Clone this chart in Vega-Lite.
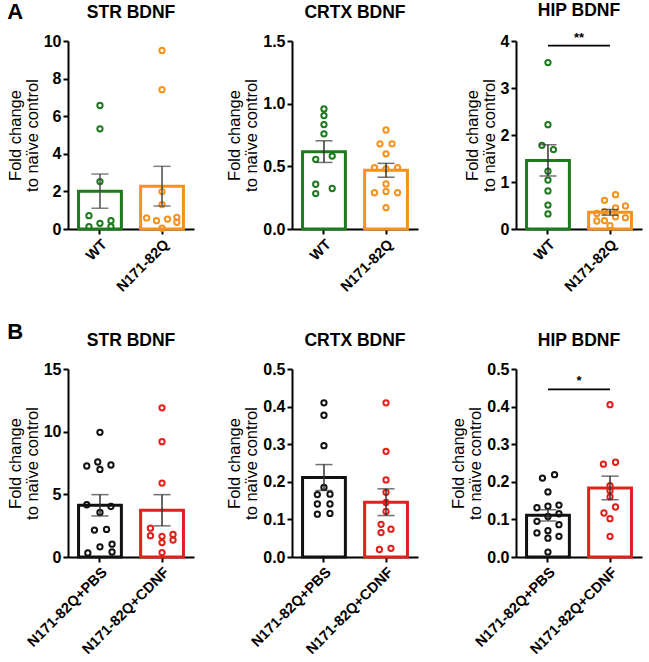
{
  "$schema": "https://vega.github.io/schema/vega-lite/v6.json",
  "padding": {"left": 7, "top": 1, "right": 2, "bottom": 2},
  "datasets": {
    "pts": [
      {"p":"A1","g":"WT","v":6.57,"c":0},{"p":"A1","g":"WT","v":5.33,"c":0},{"p":"A1","g":"WT","v":2.52,"c":0},{"p":"A1","g":"WT","v":0.71,"c":-1},{"p":"A1","g":"WT","v":0.12,"c":-1},{"p":"A1","g":"WT","v":0.30,"c":0},{"p":"A1","g":"WT","v":0.44,"c":1},{"p":"A1","g":"WT","v":0.12,"c":1},
      {"p":"A1","g":"N171-82Q","v":9.5,"c":0},{"p":"A1","g":"N171-82Q","v":7.41,"c":0},{"p":"A1","g":"N171-82Q","v":1.99,"c":0},{"p":"A1","g":"N171-82Q","v":1.30,"c":0},{"p":"A1","g":"N171-82Q","v":0.59,"c":-1.4},{"p":"A1","g":"N171-82Q","v":0.44,"c":-0.5},{"p":"A1","g":"N171-82Q","v":0.53,"c":0.5},{"p":"A1","g":"N171-82Q","v":0.62,"c":1.35},{"p":"A1","g":"N171-82Q","v":0.36,"c":1.35},{"p":"A1","g":"N171-82Q","v":0.04,"c":0},
      {"p":"A2","g":"WT","v":0.958,"c":0},{"p":"A2","g":"WT","v":0.905,"c":0},{"p":"A2","g":"WT","v":0.833,"c":0},{"p":"A2","g":"WT","v":0.759,"c":0},{"p":"A2","g":"WT","v":0.556,"c":-0.75},{"p":"A2","g":"WT","v":0.582,"c":0.75},{"p":"A2","g":"WT","v":0.357,"c":-0.75},{"p":"A2","g":"WT","v":0.283,"c":-0.75},{"p":"A2","g":"WT","v":0.323,"c":0.75},
      {"p":"A2","g":"N171-82Q","v":0.79,"c":0},{"p":"A2","g":"N171-82Q","v":0.68,"c":-0.55},{"p":"A2","g":"N171-82Q","v":0.68,"c":0.55},{"p":"A2","g":"N171-82Q","v":0.60,"c":0},{"p":"A2","g":"N171-82Q","v":0.49,"c":-1.05},{"p":"A2","g":"N171-82Q","v":0.48,"c":0},{"p":"A2","g":"N171-82Q","v":0.49,"c":1.05},{"p":"A2","g":"N171-82Q","v":0.36,"c":0},{"p":"A2","g":"N171-82Q","v":0.30,"c":0},{"p":"A2","g":"N171-82Q","v":0.29,"c":-1.05},{"p":"A2","g":"N171-82Q","v":0.29,"c":1.05},{"p":"A2","g":"N171-82Q","v":0.17,"c":0},
      {"p":"A3","g":"WT","v":3.54,"c":0},{"p":"A3","g":"WT","v":2.22,"c":0},{"p":"A3","g":"WT","v":1.78,"c":-0.55},{"p":"A3","g":"WT","v":1.69,"c":0.5},{"p":"A3","g":"WT","v":1.23,"c":0},{"p":"A3","g":"WT","v":1.04,"c":0},{"p":"A3","g":"WT","v":0.81,"c":0},{"p":"A3","g":"WT","v":0.51,"c":0},{"p":"A3","g":"WT","v":0.32,"c":0},
      {"p":"A3","g":"N171-82Q","v":0.73,"c":0.5},{"p":"A3","g":"N171-82Q","v":0.61,"c":-0.5},{"p":"A3","g":"N171-82Q","v":0.49,"c":1.4},{"p":"A3","g":"N171-82Q","v":0.45,"c":0.5},{"p":"A3","g":"N171-82Q","v":0.37,"c":-0.5},{"p":"A3","g":"N171-82Q","v":0.33,"c":-1.2},{"p":"A3","g":"N171-82Q","v":0.26,"c":0.5},{"p":"A3","g":"N171-82Q","v":0.24,"c":1.4},{"p":"A3","g":"N171-82Q","v":0.18,"c":-0.5},{"p":"A3","g":"N171-82Q","v":0.17,"c":-1.2},{"p":"A3","g":"N171-82Q","v":0.07,"c":0},
      {"p":"B1","g":"N171-82Q+PBS","v":9.95,"c":0},{"p":"B1","g":"N171-82Q+PBS","v":7.58,"c":-0.2},{"p":"B1","g":"N171-82Q+PBS","v":7.26,"c":-1.2},{"p":"B1","g":"N171-82Q+PBS","v":6.99,"c":0},{"p":"B1","g":"N171-82Q+PBS","v":7.34,"c":1},{"p":"B1","g":"N171-82Q+PBS","v":4.17,"c":-1.2},{"p":"B1","g":"N171-82Q+PBS","v":4.03,"c":1},{"p":"B1","g":"N171-82Q+PBS","v":3.55,"c":0},{"p":"B1","g":"N171-82Q+PBS","v":2.15,"c":-0.5},{"p":"B1","g":"N171-82Q+PBS","v":2.2,"c":0.6},{"p":"B1","g":"N171-82Q+PBS","v":1.02,"c":1.1},{"p":"B1","g":"N171-82Q+PBS","v":0.81,"c":0},{"p":"B1","g":"N171-82Q+PBS","v":0.4,"c":1.1},{"p":"B1","g":"N171-82Q+PBS","v":0.32,"c":-1.1},
      {"p":"B1","g":"N171-82Q+CDNF","v":11.9,"c":0},{"p":"B1","g":"N171-82Q+CDNF","v":9.2,"c":0},{"p":"B1","g":"N171-82Q+CDNF","v":5.9,"c":0},{"p":"B1","g":"N171-82Q+CDNF","v":2.3,"c":-1.05},{"p":"B1","g":"N171-82Q+CDNF","v":1.7,"c":-1.05},{"p":"B1","g":"N171-82Q+CDNF","v":1.65,"c":0},{"p":"B1","g":"N171-82Q+CDNF","v":1.8,"c":1},{"p":"B1","g":"N171-82Q+CDNF","v":1.35,"c":1},{"p":"B1","g":"N171-82Q+CDNF","v":1.15,"c":0},{"p":"B1","g":"N171-82Q+CDNF","v":0.35,"c":0},
      {"p":"B2","g":"N171-82Q+PBS","v":0.41,"c":0},{"p":"B2","g":"N171-82Q+PBS","v":0.377,"c":0},{"p":"B2","g":"N171-82Q+PBS","v":0.296,"c":0},{"p":"B2","g":"N171-82Q+PBS","v":0.185,"c":0},{"p":"B2","g":"N171-82Q+PBS","v":0.166,"c":-0.6},{"p":"B2","g":"N171-82Q+PBS","v":0.167,"c":0.55},{"p":"B2","g":"N171-82Q+PBS","v":0.141,"c":-0.6},{"p":"B2","g":"N171-82Q+PBS","v":0.141,"c":0.55},{"p":"B2","g":"N171-82Q+PBS","v":0.114,"c":-0.6},{"p":"B2","g":"N171-82Q+PBS","v":0.116,"c":0.55},
      {"p":"B2","g":"N171-82Q+CDNF","v":0.41,"c":0},{"p":"B2","g":"N171-82Q+CDNF","v":0.281,"c":0},{"p":"B2","g":"N171-82Q+CDNF","v":0.205,"c":0},{"p":"B2","g":"N171-82Q+CDNF","v":0.172,"c":0},{"p":"B2","g":"N171-82Q+CDNF","v":0.145,"c":0},{"p":"B2","g":"N171-82Q+CDNF","v":0.121,"c":0},{"p":"B2","g":"N171-82Q+CDNF","v":0.087,"c":-0.45},{"p":"B2","g":"N171-82Q+CDNF","v":0.074,"c":0.45},{"p":"B2","g":"N171-82Q+CDNF","v":0.065,"c":-0.45},{"p":"B2","g":"N171-82Q+CDNF","v":0.02,"c":-0.6},{"p":"B2","g":"N171-82Q+CDNF","v":0.023,"c":0.45},
      {"p":"B3","g":"N171-82Q+PBS","v":0.219,"c":0.6},{"p":"B3","g":"N171-82Q+PBS","v":0.21,"c":-0.5},{"p":"B3","g":"N171-82Q+PBS","v":0.173,"c":0},{"p":"B3","g":"N171-82Q+PBS","v":0.138,"c":1},{"p":"B3","g":"N171-82Q+PBS","v":0.135,"c":0},{"p":"B3","g":"N171-82Q+PBS","v":0.131,"c":-1},{"p":"B3","g":"N171-82Q+PBS","v":0.115,"c":1},{"p":"B3","g":"N171-82Q+PBS","v":0.108,"c":0},{"p":"B3","g":"N171-82Q+PBS","v":0.095,"c":-1},{"p":"B3","g":"N171-82Q+PBS","v":0.086,"c":1},{"p":"B3","g":"N171-82Q+PBS","v":0.07,"c":0},{"p":"B3","g":"N171-82Q+PBS","v":0.064,"c":-1},{"p":"B3","g":"N171-82Q+PBS","v":0.055,"c":1},{"p":"B3","g":"N171-82Q+PBS","v":0.05,"c":0},{"p":"B3","g":"N171-82Q+PBS","v":0.013,"c":0},
      {"p":"B3","g":"N171-82Q+CDNF","v":0.405,"c":0},{"p":"B3","g":"N171-82Q+CDNF","v":0.252,"c":0.5},{"p":"B3","g":"N171-82Q+CDNF","v":0.247,"c":-0.6},{"p":"B3","g":"N171-82Q+CDNF","v":0.19,"c":0},{"p":"B3","g":"N171-82Q+CDNF","v":0.176,"c":0},{"p":"B3","g":"N171-82Q+CDNF","v":0.16,"c":0},{"p":"B3","g":"N171-82Q+CDNF","v":0.133,"c":0.5},{"p":"B3","g":"N171-82Q+CDNF","v":0.117,"c":-0.55},{"p":"B3","g":"N171-82Q+CDNF","v":0.102,"c":0},{"p":"B3","g":"N171-82Q+CDNF","v":0.055,"c":0}
    ],
    "sig": [
      {"p":"A3","g1":"WT","g2":"N171-82Q","v":3.9,"label":"**"},
      {"p":"B3","g1":"N171-82Q+PBS","g2":"N171-82Q+CDNF","v":0.446,"label":"*"}
    ]
  },
  "config": {
    "font": "Liberation Sans",
    "view": {"stroke": null},
    "axis": {"grid": false, "domainColor": "#000", "domainWidth": 2, "tickColor": "#000", "tickWidth": 2, "tickSize": 5, "labelColor": "#000", "labelFontWeight": "bold", "labelFontSize": 16, "titleColor": "#000", "titleFontWeight": "normal", "titleFontSize": 16.5, "titleLineHeight": 17, "labelPadding": 2, "titlePadding": 3},
    "axisX": {"labelAngle": -45, "title": null, "labelFontSize": 14.5, "labelPadding": 3},
    "title": {"fontSize": 17.5, "fontWeight": "bold", "color": "#000", "offset": 12}
  },
  "spacing": 26,
  "vconcat": [
    {
      "title": {"text": "A", "anchor": "start", "fontSize": 22, "dy": 22, "offset": 0},
      "bounds": "flush",
      "spacing": 98,
      "hconcat": [
        {
          "title": "STR BDNF", "width": 126, "height": 188,
          "data": {"name": "pts"},
          "transform": [{"filter": "datum.p == 'A1'"}],
          "encoding": {
            "x": {"field": "g", "type": "nominal", "sort": null, "scale": {"domain": ["WT", "N171-82Q"], "paddingInner": 0.31, "paddingOuter": 0.17}, "axis": {"title": null}},
            "y": {"field": "v", "type": "quantitative", "scale": {"domain": [0, 10], "nice": false}, "axis": {"values": [0, 2, 4, 6, 8, 10], "title": ["Fold change", "to naïve control"]}},
            "color": {"field": "g", "type": "nominal", "scale": {"domain": ["WT", "N171-82Q", "N171-82Q+PBS", "N171-82Q+CDNF"], "range": ["#1e7a1e", "#f5921e", "#111111", "#e0201b"]}, "legend": null}
          },
          "resolve": {"scale": {"xOffset": "independent"}},
          "layer": [
            {"transform": [{"aggregate": [{"op": "mean", "field": "v", "as": "v"}], "groupby": ["g"]}],
             "mark": {"type": "bar", "filled": false, "strokeWidth": 3}},
            {"mark": {"type": "point", "filled": false, "size": 28, "strokeWidth": 2, "opacity": 1},
             "encoding": {"xOffset": {"field": "c", "type": "quantitative", "scale": {"domain": [-2, 2], "range": [-0.6, 43.4]}}}},
            {"mark": {"type": "errorbar", "extent": "stderr", "ticks": {"size": 17}, "thickness": 1.5},
             "encoding": {"color": {"value": "#4a4a4a"}}}
          ]
        },
        {
          "title": "CRTX BDNF", "width": 126, "height": 188,
          "data": {"name": "pts"},
          "transform": [{"filter": "datum.p == 'A2'"}],
          "encoding": {
            "x": {"field": "g", "type": "nominal", "sort": null, "scale": {"domain": ["WT", "N171-82Q"], "paddingInner": 0.31, "paddingOuter": 0.17}, "axis": {"title": null}},
            "y": {"field": "v", "type": "quantitative", "scale": {"domain": [0, 1.5], "nice": false}, "axis": {"values": [0, 0.5, 1, 1.5], "format": ".1f", "title": ["Fold change", "to naïve control"]}},
            "color": {"field": "g", "type": "nominal", "legend": null}
          },
          "resolve": {"scale": {"xOffset": "independent"}},
          "layer": [
            {"transform": [{"aggregate": [{"op": "mean", "field": "v", "as": "v"}], "groupby": ["g"]}],
             "mark": {"type": "bar", "filled": false, "strokeWidth": 3}},
            {"mark": {"type": "point", "filled": false, "size": 28, "strokeWidth": 2, "opacity": 1},
             "encoding": {"xOffset": {"field": "c", "type": "quantitative", "scale": {"domain": [-2, 2], "range": [-0.6, 43.4]}}}},
            {"mark": {"type": "errorbar", "extent": "stderr", "ticks": {"size": 17}, "thickness": 1.5},
             "encoding": {"color": {"value": "#333333"}}}
          ]
        },
        {
          "title": "HIP BDNF", "width": 126, "height": 188,
          "data": {"name": "pts"},
          "transform": [{"filter": "datum.p == 'A3'"}],
          "encoding": {
            "x": {"field": "g", "type": "nominal", "sort": null, "scale": {"domain": ["WT", "N171-82Q"], "paddingInner": 0.31, "paddingOuter": 0.17}, "axis": {"title": null}},
            "y": {"field": "v", "type": "quantitative", "scale": {"domain": [0, 4], "nice": false}, "axis": {"values": [0, 1, 2, 3, 4], "title": ["Fold change", "to naïve control"]}},
            "color": {"field": "g", "type": "nominal", "legend": null}
          },
          "resolve": {"scale": {"xOffset": "independent"}},
          "layer": [
            {"transform": [{"aggregate": [{"op": "mean", "field": "v", "as": "v"}], "groupby": ["g"]}],
             "mark": {"type": "bar", "filled": false, "strokeWidth": 3}},
            {"mark": {"type": "point", "filled": false, "size": 28, "strokeWidth": 2, "opacity": 1},
             "encoding": {"xOffset": {"field": "c", "type": "quantitative", "scale": {"domain": [-2, 2], "range": [-0.6, 43.4]}}}},
            {"mark": {"type": "errorbar", "extent": "stderr", "ticks": {"size": 17}, "thickness": 1.5},
             "encoding": {"color": {"value": "#333333"}}},
            {"data": {"name": "sig"}, "transform": [{"filter": "datum.p == 'A3'"}],
             "mark": {"type": "rule", "strokeWidth": 1.8},
             "encoding": {"x": {"field": "g1", "type": "nominal"}, "x2": {"field": "g2"}, "color": {"value": "#000"}}},
            {"data": {"name": "sig"}, "transform": [{"filter": "datum.p == 'A3'"}],
             "mark": {"type": "text", "fontSize": 13, "fontWeight": "bold", "baseline": "bottom", "dy": -1},
             "encoding": {"x": {"field": "g1", "type": "nominal", "bandPosition": 1.225}, "text": {"field": "label"}, "color": {"value": "#000"}}}
          ]
        }
      ]
    },
    {
      "title": {"text": "B", "anchor": "start", "fontSize": 22, "dy": 12, "offset": 0},
      "bounds": "flush",
      "spacing": 98,
      "hconcat": [
        {
          "title": "STR BDNF", "width": 126, "height": 188,
          "data": {"name": "pts"},
          "transform": [{"filter": "datum.p == 'B1'"}],
          "encoding": {
            "x": {"field": "g", "type": "nominal", "sort": null, "scale": {"domain": ["N171-82Q+PBS", "N171-82Q+CDNF"], "paddingInner": 0.31, "paddingOuter": 0.17}, "axis": {"title": null}},
            "y": {"field": "v", "type": "quantitative", "scale": {"domain": [0, 15], "nice": false}, "axis": {"values": [0, 5, 10, 15], "title": ["Fold change", "to naïve control"]}},
            "color": {"field": "g", "type": "nominal", "legend": null}
          },
          "resolve": {"scale": {"xOffset": "independent"}},
          "layer": [
            {"transform": [{"aggregate": [{"op": "mean", "field": "v", "as": "v"}], "groupby": ["g"]}],
             "mark": {"type": "bar", "filled": false, "strokeWidth": 3}},
            {"mark": {"type": "point", "filled": false, "size": 28, "strokeWidth": 2, "opacity": 1},
             "encoding": {"xOffset": {"field": "c", "type": "quantitative", "scale": {"domain": [-2, 2], "range": [-0.6, 43.4]}}}},
            {"mark": {"type": "errorbar", "extent": "stderr", "ticks": {"size": 17}, "thickness": 1.5},
             "encoding": {"color": {"value": "#333333"}}}
          ]
        },
        {
          "title": "CRTX BDNF", "width": 126, "height": 188,
          "data": {"name": "pts"},
          "transform": [{"filter": "datum.p == 'B2'"}],
          "encoding": {
            "x": {"field": "g", "type": "nominal", "sort": null, "scale": {"domain": ["N171-82Q+PBS", "N171-82Q+CDNF"], "paddingInner": 0.31, "paddingOuter": 0.17}, "axis": {"title": null}},
            "y": {"field": "v", "type": "quantitative", "scale": {"domain": [0, 0.5], "nice": false}, "axis": {"values": [0, 0.1, 0.2, 0.3, 0.4, 0.5], "format": ".1f", "title": ["Fold change", "to naïve control"]}},
            "color": {"field": "g", "type": "nominal", "legend": null}
          },
          "resolve": {"scale": {"xOffset": "independent"}},
          "layer": [
            {"transform": [{"aggregate": [{"op": "mean", "field": "v", "as": "v"}], "groupby": ["g"]}],
             "mark": {"type": "bar", "filled": false, "strokeWidth": 3}},
            {"mark": {"type": "point", "filled": false, "size": 28, "strokeWidth": 2, "opacity": 1},
             "encoding": {"xOffset": {"field": "c", "type": "quantitative", "scale": {"domain": [-2, 2], "range": [-0.6, 43.4]}}}},
            {"mark": {"type": "errorbar", "extent": "stderr", "ticks": {"size": 17}, "thickness": 1.5},
             "encoding": {"color": {"value": "#333333"}}}
          ]
        },
        {
          "title": "HIP BDNF", "width": 126, "height": 188,
          "data": {"name": "pts"},
          "transform": [{"filter": "datum.p == 'B3'"}],
          "encoding": {
            "x": {"field": "g", "type": "nominal", "sort": null, "scale": {"domain": ["N171-82Q+PBS", "N171-82Q+CDNF"], "paddingInner": 0.31, "paddingOuter": 0.17}, "axis": {"title": null}},
            "y": {"field": "v", "type": "quantitative", "scale": {"domain": [0, 0.5], "nice": false}, "axis": {"values": [0, 0.1, 0.2, 0.3, 0.4, 0.5], "format": ".1f", "title": ["Fold change", "to naïve control"]}},
            "color": {"field": "g", "type": "nominal", "legend": null}
          },
          "resolve": {"scale": {"xOffset": "independent"}},
          "layer": [
            {"transform": [{"aggregate": [{"op": "mean", "field": "v", "as": "v"}], "groupby": ["g"]}],
             "mark": {"type": "bar", "filled": false, "strokeWidth": 3}},
            {"mark": {"type": "point", "filled": false, "size": 28, "strokeWidth": 2, "opacity": 1},
             "encoding": {"xOffset": {"field": "c", "type": "quantitative", "scale": {"domain": [-2, 2], "range": [-0.6, 43.4]}}}},
            {"mark": {"type": "errorbar", "extent": "stderr", "ticks": {"size": 17}, "thickness": 1.5},
             "encoding": {"color": {"value": "#333333"}}},
            {"data": {"name": "sig"}, "transform": [{"filter": "datum.p == 'B3'"}],
             "mark": {"type": "rule", "strokeWidth": 1.8},
             "encoding": {"x": {"field": "g1", "type": "nominal"}, "x2": {"field": "g2"}, "color": {"value": "#000"}}},
            {"data": {"name": "sig"}, "transform": [{"filter": "datum.p == 'B3'"}],
             "mark": {"type": "text", "fontSize": 13, "fontWeight": "bold", "baseline": "bottom", "dy": -1},
             "encoding": {"x": {"field": "g1", "type": "nominal", "bandPosition": 1.225}, "text": {"field": "label"}, "color": {"value": "#000"}}}
          ]
        }
      ]
    }
  ]
}
